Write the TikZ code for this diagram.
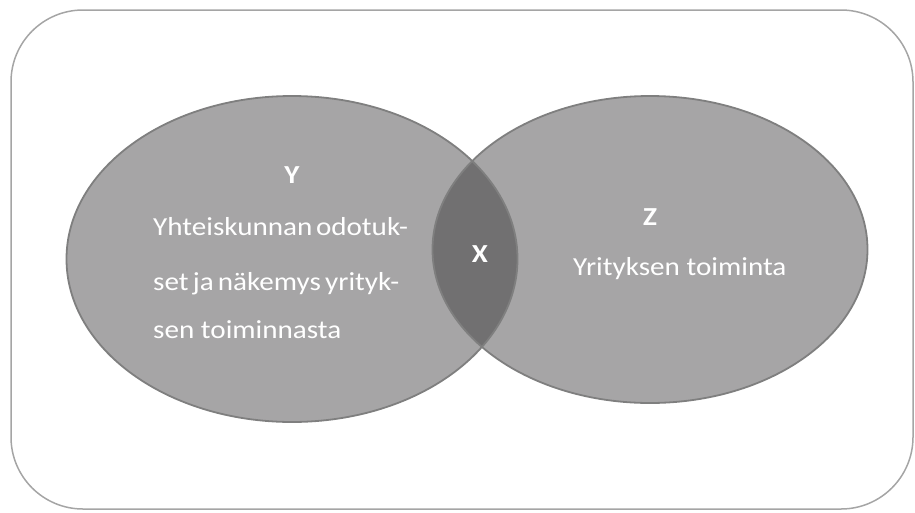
\documentclass[tikz,border=0pt]{standalone}
\usepackage{fontspec}
\setmainfont[FakeStretch=1.12]{Carlito}
\definecolor{fillg}{HTML}{A6A5A6}
\definecolor{edgeg}{HTML}{7F7F7F}
\definecolor{lensg}{HTML}{717071}
\definecolor{frameg}{HTML}{A5A5A5}
\begin{document}
\begin{tikzpicture}[x=1pt,y=-1pt,
  edge/.style={draw=edgeg, line width=1.8pt},
  lbl/.style={text=white, font=\fontsize{26}{30}\selectfont\bfseries, inner sep=0pt, anchor=base},
  txt/.style={text=white, font=\fontsize{26}{30}\selectfont, inner sep=0pt, anchor=base west}]
\useasboundingbox (0,0) rectangle (915,512);
\draw[frameg, line width=1.5pt, rounded corners=72pt] (11,10) rectangle (913,509);
% fills
\fill[fillg] (292,259) ellipse [x radius=225.5pt, y radius=163pt];
\fill[fillg] (650,249.5) ellipse [x radius=217.5pt, y radius=153.5pt];
\begin{scope}
  \clip (292,259) ellipse [x radius=225.5pt, y radius=163pt];
  \fill[lensg] (650,249.5) ellipse [x radius=217.5pt, y radius=153.5pt];
\end{scope}
% borders
\draw[edge] (292,259) ellipse [x radius=225.5pt, y radius=163pt];
\draw[edge] (650,249.5) ellipse [x radius=217.5pt, y radius=153.5pt];
% labels
\node[lbl] (Y) at (292,183) {Y};
\node[lbl] (X) at (480,262) {X};
\node[lbl] (Z) at (650,225) {Z};
\node[txt] (y1) at (153,235) {\spaceskip=0.14em Yhteiskunnan odotuk-};
\node[txt] (y2) at (153,290) {\spaceskip=0.16em set ja näkemys yrityk-};
\node[txt] (y3) at (153,338) {sen toiminnasta};
\node[txt] (z1) at (573,275) {Yrityksen toiminta};
\end{tikzpicture}
\end{document}
